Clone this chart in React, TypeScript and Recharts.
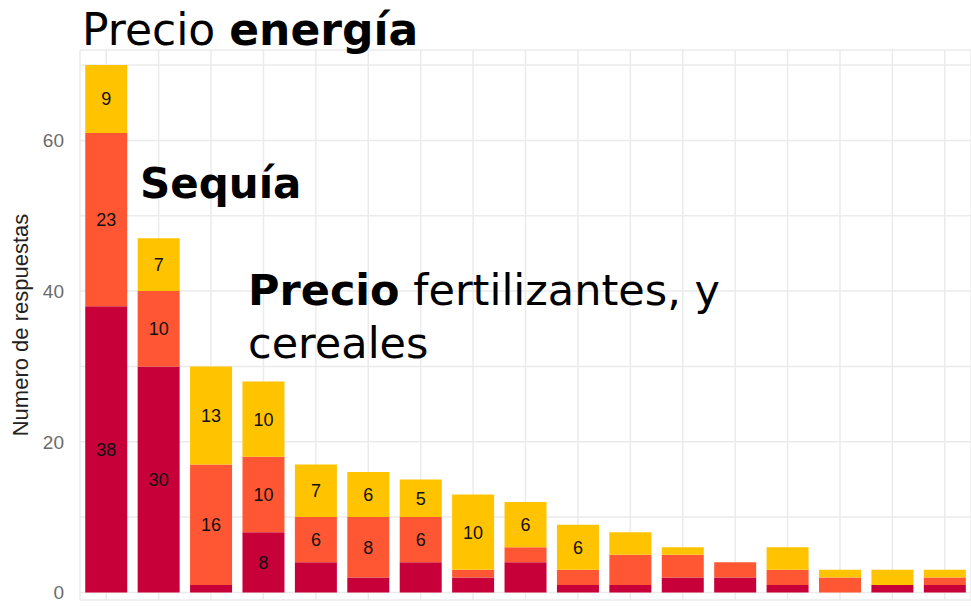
import { BarChart, Bar, XAxis, YAxis, CartesianGrid, LabelList } from 'recharts'

// answers per factor, split by response level (bottom -> top)
const factores = ['F1', 'F2', 'F3', 'F4', 'F5', 'F6', 'F7', 'F8', 'F9', 'F10', 'F11', 'F12', 'F13', 'F14', 'F15', 'F16', 'F17']
const alto = [38, 30, 1, 8, 4, 2, 4, 2, 4, 1, 1, 2, 2, 1, 0, 1, 1]
const medio = [23, 10, 16, 10, 6, 8, 6, 1, 2, 2, 4, 3, 2, 2, 2, 0, 1]
const bajo = [9, 7, 13, 10, 7, 6, 5, 10, 6, 6, 3, 1, 0, 3, 1, 2, 1]
const yTicks = [0, 10, 20, 30, 40, 50, 60, 70]

const data = factores.map((f, i) => ({ factor: f, alto: alto[i], medio: medio[i], bajo: bajo[i] }))

const labelFmt = (v: any) => (v >= 5 ? v : '')
const labelStyle = { fill: '#111', fontSize: 18, fontFamily: 'Liberation Sans, Arial, sans-serif' }
const titleFont = 'DejaVu Sans, sans-serif'

export default function App() {
  return (
    <div style={{ position: 'absolute', left: 0, top: 0, width: 971, height: 607, background: '#fff' }}>
      <BarChart
        width={971}
        height={640}
        data={data}
        barCategoryGap="10%"
        margin={{ top: 50, right: 0, left: 0, bottom: 40 }}
      >
        <CartesianGrid stroke="#ebebeb" strokeWidth={1.5} />
        <XAxis dataKey="factor" hide />
        <YAxis
          width={80}
          domain={[-1, 72]}
          ticks={yTicks}
          interval={0}
          axisLine={false}
          tickLine={false}
          tickFormatter={(v: number) => (v % 20 === 0 ? String(v) : '')}
          tick={{ fill: '#6b6b6b', fontSize: 19, fontFamily: 'Liberation Sans, Arial, sans-serif', dx: -8 }}
          label={{
            value: 'Numero de respuestas',
            angle: -90,
            position: 'insideLeft',
            offset: 20,
            style: { fill: '#222', fontSize: 22, fontFamily: 'Liberation Sans, Arial, sans-serif', textAnchor: 'middle' },
          }}
        />
        <Bar dataKey="alto" stackId="a" fill="#C70039" isAnimationActive={false}>
          <LabelList dataKey="alto" position="center" formatter={labelFmt} style={labelStyle} />
        </Bar>
        <Bar dataKey="medio" stackId="a" fill="#FF5733" isAnimationActive={false}>
          <LabelList dataKey="medio" position="center" formatter={labelFmt} style={labelStyle} />
        </Bar>
        <Bar dataKey="bajo" stackId="a" fill="#FFC300" isAnimationActive={false}>
          <LabelList dataKey="bajo" position="center" formatter={labelFmt} style={labelStyle} />
        </Bar>
      </BarChart>
      <svg width={971} height={607} style={{ position: 'absolute', left: 0, top: 0, pointerEvents: 'none' }}>
        <text x={82} y={45} fontSize={44} fontFamily={titleFont} fill="#000">
          Precio <tspan fontWeight="bold">energía</tspan>
        </text>
        <text x={140} y={198} fontSize={42} fontFamily={titleFont} fontWeight="bold" fill="#000">
          Sequía
        </text>
        <text x={248} y={305} fontSize={43} fontFamily={titleFont} fill="#000">
          <tspan fontWeight="bold">Precio</tspan> fertilizantes, y
        </text>
        <text x={248} y={358} fontSize={43} fontFamily={titleFont} fill="#000">
          cereales
        </text>
      </svg>
    </div>
  )
}
